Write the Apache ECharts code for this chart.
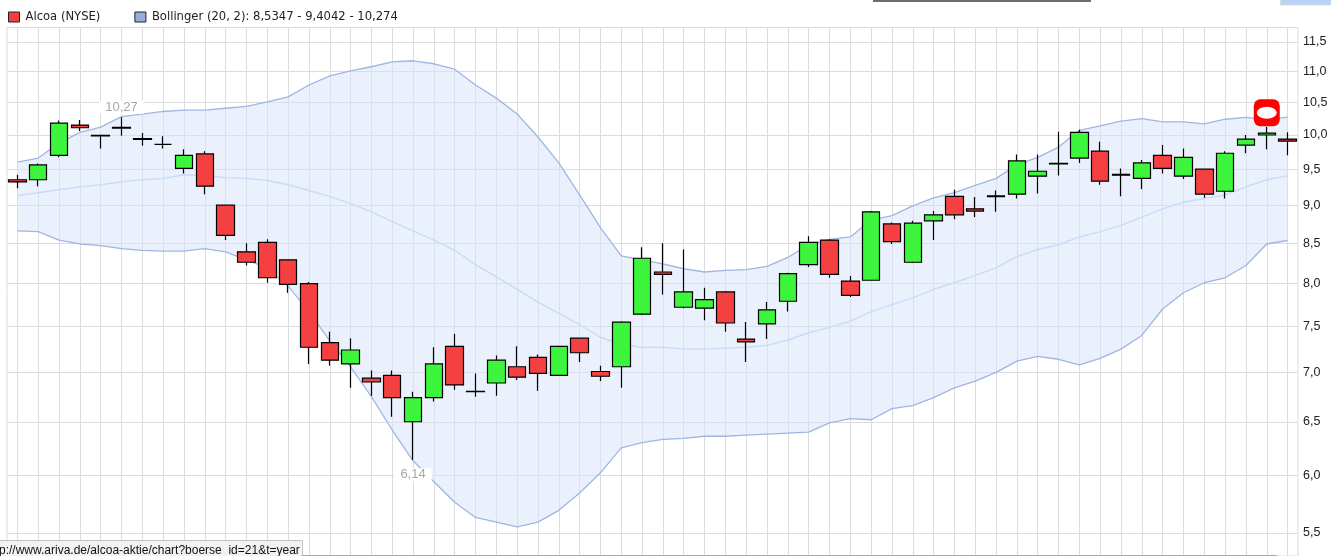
<!DOCTYPE html>
<html>
<head>
<meta charset="utf-8">
<style>html,body{margin:0;padding:0;background:#fff}#chart{width:1331px;height:556px}</style>
<script src="https://cdn.jsdelivr.net/npm/echarts@6/dist/echarts.min.js"></script>
</head>
<body>
<div id="chart"></div>
<script>
// open, close, low, high
const candles = [
  [9.35,9.32,9.23,9.42],[9.35,9.56,9.26,9.58],[9.70,10.18,9.67,10.22],[10.15,10.11,10.06,10.23],
  [9.995,9.985,9.80,10.00],[10.115,10.105,9.99,10.27],[9.945,9.935,9.84,10.03],[9.86,9.86,9.80,9.98],
  [9.51,9.70,9.44,9.79],[9.72,9.26,9.15,9.76],[9.00,8.60,8.54,9.01],[8.39,8.26,8.22,8.50],
  [8.51,8.07,8.01,8.55],[8.29,7.99,7.89,8.29],[8.00,7.27,7.09,8.02],[7.32,7.13,7.07,7.44],
  [7.09,7.24,6.84,7.37],[6.94,6.90,6.76,7.02],[6.97,6.74,6.55,7.02],[6.50,6.74,6.14,6.80],
  [6.74,7.09,6.70,7.27],[7.28,6.87,6.82,7.42],[6.805,6.80,6.75,6.99],[6.89,7.13,6.76,7.18],
  [7.06,6.95,6.92,7.28],[7.16,6.99,6.81,7.19],[6.97,7.28,6.97,7.28],[7.37,7.21,7.11,7.37],
  [7.01,6.96,6.91,7.07],[7.06,7.55,6.84,7.56],[7.64,8.31,7.63,8.45],[8.14,8.11,7.87,8.50],
  [7.72,7.90,7.71,8.42],[7.71,7.81,7.57,7.95],[7.90,7.54,7.44,7.91],[7.36,7.33,7.11,7.55],
  [7.53,7.69,7.36,7.78],[7.79,8.12,7.67,8.13],[8.23,8.51,8.20,8.59],[8.54,8.11,8.07,8.55],
  [8.03,7.86,7.84,8.09],[8.04,8.91,8.04,8.92],[8.75,8.52,8.49,8.77],[8.26,8.76,8.25,8.79],
  [8.79,8.87,8.54,8.92],[9.12,8.87,8.81,9.21],[8.95,8.92,8.84,9.11],[9.125,9.115,8.91,9.20],
  [9.15,9.62,9.09,9.71],[9.40,9.47,9.16,9.71],[9.585,9.575,9.41,10.05],[9.66,10.04,9.59,10.08],
  [9.76,9.33,9.28,9.90],[9.425,9.415,9.12,9.51],[9.37,9.59,9.22,9.63],[9.70,9.51,9.44,9.85],
  [9.40,9.67,9.36,9.80],[9.50,9.15,9.10,9.51],[9.19,9.73,9.09,9.76],[9.85,9.94,9.73,10.00],
  [10.00,10.03,9.79,10.12],[9.94,9.91,9.70,10.04]
];
const bollUpper = [
  9.60,9.66,9.88,10.04,10.12,10.28,10.32,10.36,10.38,10.38,10.41,10.44,10.51,10.59,10.78,10.93,
  11.01,11.08,11.16,11.18,11.13,11.04,10.78,10.57,10.32,9.97,9.59,9.14,8.70,8.34,8.29,8.24,
  8.18,8.14,8.16,8.17,8.21,8.32,8.48,8.55,8.58,8.80,8.86,8.99,9.10,9.17,9.27,9.37,
  9.56,9.67,9.82,10.07,10.14,10.21,10.25,10.20,10.20,10.17,10.24,10.27,10.23,10.274
];
const bollMiddle = [
  9.13,9.17,9.21,9.25,9.28,9.32,9.35,9.37,9.42,9.41,9.38,9.37,9.34,9.28,9.20,9.12,
  9.02,8.91,8.78,8.66,8.54,8.41,8.23,8.08,7.93,7.78,7.65,7.52,7.38,7.30,7.27,7.27,
  7.25,7.25,7.26,7.27,7.29,7.35,7.43,7.49,7.56,7.67,7.75,7.83,7.93,8.01,8.10,8.19,
  8.33,8.42,8.48,8.58,8.65,8.73,8.84,8.95,9.04,9.09,9.14,9.25,9.35,9.4042
];
const bollLower = [
  8.66,8.65,8.54,8.49,8.47,8.43,8.41,8.40,8.40,8.43,8.39,8.29,8.19,7.97,7.67,7.34,
  7.06,6.75,6.42,6.13,5.94,5.76,5.63,5.59,5.55,5.59,5.69,5.84,6.02,6.25,6.30,6.33,
  6.34,6.36,6.36,6.37,6.38,6.39,6.40,6.49,6.53,6.52,6.63,6.66,6.74,6.84,6.91,7.00,
  7.12,7.17,7.14,7.08,7.15,7.25,7.40,7.70,7.89,8.01,8.07,8.22,8.49,8.5347
];
const categories = candles.map((c, i) => String(i + 1));
const yTicks = [5.5, 6, 6.5, 7, 7.5, 8, 8.5, 9, 9.5, 10, 10.5, 11, 11.5];
const stockName = 'Alcoa (NYSE)';
const bollName = 'Bollinger (20, 2): 8,5347 - 9,4042 - 10,274';
const commaFmt = v => v.toFixed(1).replace('.', ',');
const LEGEND_FONT = '"DejaVu Sans"';
const LABEL_FONT = '"Liberation Sans"';

const extremeLabel = (text, dy) => ({
  show: true, formatter: text, offset: [0, dy], color: '#a8a8a8',
  fontFamily: LABEL_FONT, fontSize: 13, backgroundColor: '#fff', padding: [0, 6]
});

const chart = echarts.init(document.getElementById('chart'));
chart.setOption({
  animation: false,
  legend: {
    left: 8, top: 11, padding: 0, itemWidth: 11, itemHeight: 10, itemGap: 34, selectedMode: false,
    textStyle: { fontFamily: LEGEND_FONT, fontSize: 11.6, color: '#222', padding: [0, 0, 0, 1] },
    data: [
      { name: stockName, icon: 'rect', itemStyle: { color: '#f44040', borderColor: '#222', borderWidth: 1 } },
      { name: bollName, icon: 'rect', itemStyle: { color: '#96aede', borderColor: '#222', borderWidth: 1 } }
    ]
  },
  grid: { left: 7, right: 33, top: 27.5, bottom: 0, show: true, borderColor: '#dcdcdc', borderWidth: 1, backgroundColor: 'transparent' },
  xAxis: {
    type: 'category', data: categories, boundaryGap: true,
    axisLine: { show: false }, axisTick: { show: false }, axisLabel: { show: false },
    splitLine: { show: true, alignWithLabel: true, interval: 0, lineStyle: { color: '#dcdcdc', width: 1 } }
  },
  yAxis: {
    type: 'log', logBase: 10, position: 'right', min: 5.313, max: 11.753,
    axisLine: { show: false },
    axisTick: { show: false, customValues: yTicks },
    axisLabel: { customValues: yTicks, formatter: commaFmt, margin: 5, padding: [3, 0, 0, 0], fontFamily: LABEL_FONT, fontSize: 12.5, color: '#222' },
    splitLine: { show: true, lineStyle: { color: '#dcdcdc', width: 1 } }
  },
  series: [
    {
      name: 'lower', type: 'line', data: bollLower, stack: 'boll', symbol: 'none', z: 2,
      lineStyle: { color: '#a0b6e2', width: 1.3 }
    },
    {
      name: bollName, type: 'line', data: bollUpper.map((v, i) => v - bollLower[i]), stack: 'boll', symbol: 'none', z: 2,
      lineStyle: { color: '#a0b6e2', width: 1.3 },
      areaStyle: { color: 'rgba(213,227,249,0.5)', opacity: 1 }
    },
    {
      name: 'middle', type: 'line', data: bollMiddle, symbol: 'none', z: 2,
      lineStyle: { color: '#c8dbf8', width: 1.4 }
    },
    {
      name: stockName, type: 'candlestick', data: candles, barWidth: 18, z: 3,
      itemStyle: {
        color: '#3df53d', color0: '#f44040',
        borderColor: '#000', borderColor0: '#000', borderColorDoji: '#000', borderWidth: 1.2
      },
      markPoint: {
        silent: true, animation: false,
        data: [
          { coord: [5, 10.27], symbol: 'rect', symbolSize: 0, label: extremeLabel('10,27', -10) },
          { coord: [19, 6.14], symbol: 'rect', symbolSize: 0, label: extremeLabel('6,14', 15) },
          // hand drawn red blob around the last but one candle
          { coord: [60, 10.34], symbol: 'roundRect', symbolSize: [26, 27], label: { show: false },
            itemStyle: { color: '#f00' } },
          { coord: [60, 10.34], symbol: 'circle', symbolSize: [20, 12], label: { show: false },
            itemStyle: { color: '#fff' } }
        ]
      }
    }
  ],
  graphic: [
    { type: 'rect', shape: { x: 873, y: 0, width: 218, height: 2 }, style: { fill: '#6e6e6e' } },
    { type: 'rect', shape: { x: 1280.5, y: -1, width: 52, height: 6 }, style: { fill: '#b9d3f7', stroke: '#dddddd' } },
    { type: 'rect', shape: { x: -1, y: 540.5, width: 303.5, height: 17 }, style: { fill: '#f2f2f2', stroke: '#c4c4c4' }, z: 10 },
    { type: 'text', x: -1, y: 545, z: 11, style: { text: 'p://www.ariva.de/alcoa-aktie/chart?boerse_id=21&t=year', font: '12px "Liberation Sans"', fill: '#111' } },
    { type: 'rect', shape: { x: 302, y: 555, width: 975, height: 1 }, style: { fill: '#a8a8a8' }, z: 10 }
  ]
});
</script>
</body>
</html>
